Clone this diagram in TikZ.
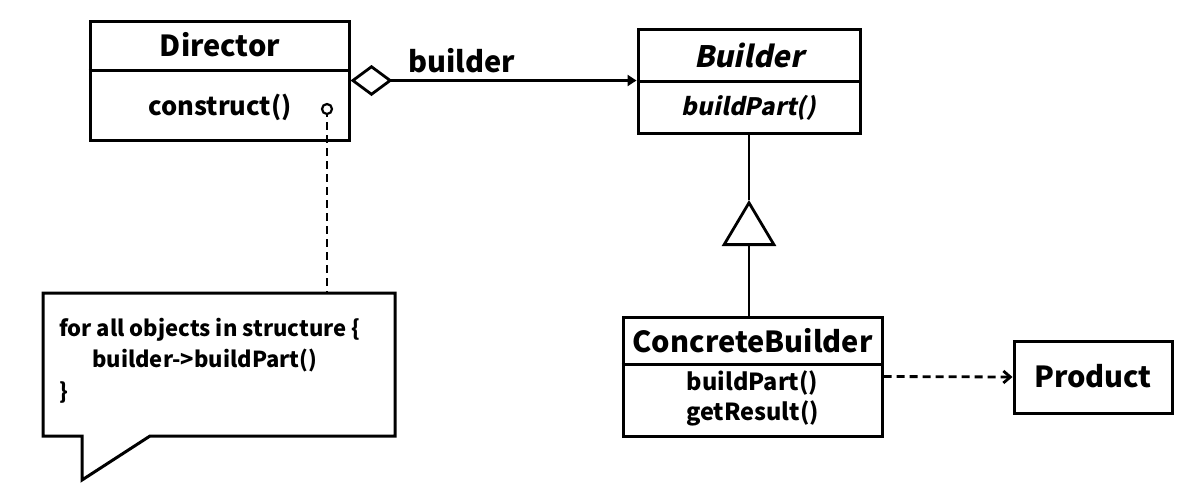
\documentclass[tikz,border=0pt]{standalone}
\usepackage{fontspec}
\setmainfont{Noto Sans CJK KR}
\newfontfamily\slfont{Noto Sans CJK KR}[FakeSlant=0.2, BoldFeatures={FakeSlant=0.2}]
\usetikzlibrary{arrows.meta}
\tikzset{
  umlbox/.style={draw, line width=3pt, inner sep=0pt, fill=white},
  title/.style={font=\fontsize{29}{32}\selectfont\bfseries, inner sep=0pt},
  meth/.style={font=\fontsize{23.5}{26}\selectfont\bfseries, inner sep=0pt},
  notetext/.style={font=\fontsize{22}{31.5}\selectfont\bfseries, inner sep=0pt, align=left, anchor=north west},
  conn/.style={line width=2.8pt},
  dashconn/.style={line width=2.8pt, dash pattern=on 8pt off 5pt},
}
\begin{document}
\begin{tikzpicture}[x=1pt,y=-1pt]
\useasboundingbox (0,0) rectangle (1193,499);
% Director
\node[umlbox, minimum width=259pt, minimum height=119pt] (dir) at (219.5,80.5) {};
\draw[line width=3pt] (dir.west |- 0,70) -- (dir.east |- 0,70);
\node[title] (dirname) at (220,45) {Director};
\node[meth, font=\fontsize{25.5}{28}\selectfont\bfseries] (dirop) at (220,107) {construct()};
% Builder
\node[umlbox, minimum width=222pt, minimum height=104pt] (bld) at (749,81) {};
\draw[line width=3pt] (bld.west |- 0,81) -- (bld.east |- 0,81);
\node[title, font=\fontsize{29.5}{32}\slfont\bfseries] (bldname) at (749,55) {Builder};
\node[meth, font=\fontsize{24}{27}\slfont\bfseries] (bldop) at (749,108) {buildPart()};
% ConcreteBuilder
\node[umlbox, minimum width=259pt, minimum height=119pt] (cb) at (752.5,376.5) {};
\draw[line width=3pt] (cb.west |- 0,364) -- (cb.east |- 0,364);
\node[title] (cbname) at (752.5,341) {ConcreteBuilder};
\node[meth] (cbop1) at (752.5,383) {buildPart()};
\node[meth] (cbop2) at (752.5,413) {getResult()};
% Product
\node[umlbox, minimum width=158pt, minimum height=72pt] (prod) at (1093,377) {};
\node[title] (prodname) at (1093,376) {Product};
% Note
\draw[line width=3pt, fill=white] (43,293) -- (395,293) -- (395,436) -- (150,436) -- (82,480) -- (82,436) -- (43,436) -- cycle;
\node[notetext] (note) at (59,318) {for all objects in structure \{\\\hspace*{33pt}builder->buildPart()\\\}};
\coordinate (notetop) at (327,293);
\coordinate (circ) at (327,109);
% Aggregation
\draw[conn, {Diamond[open, length=42pt, width=31pt]}-{Triangle[length=9pt, width=11pt]}] (dir.east) -- (dir.east -| bld.west);
\node[title, anchor=base] (agglabel) at (462,72) {builder};
% Generalization
\coordinate (tip) at (749,200);
\draw[conn] (bld.south) -- (tip);
\draw[conn, -{Triangle[open, length=46pt, width=54pt]}] (bld.south |- cb.north) -- (tip);
% Dependency
\draw[dashconn, -{Straight Barb[length=7pt, width=12pt]}] (cb.east) -- (prod.west);
% Note link
\draw[dashconn] (circ) -- (notetop);
\draw[line width=2.2pt, fill=white] (circ) circle (5pt);
\end{tikzpicture}
\end{document}
